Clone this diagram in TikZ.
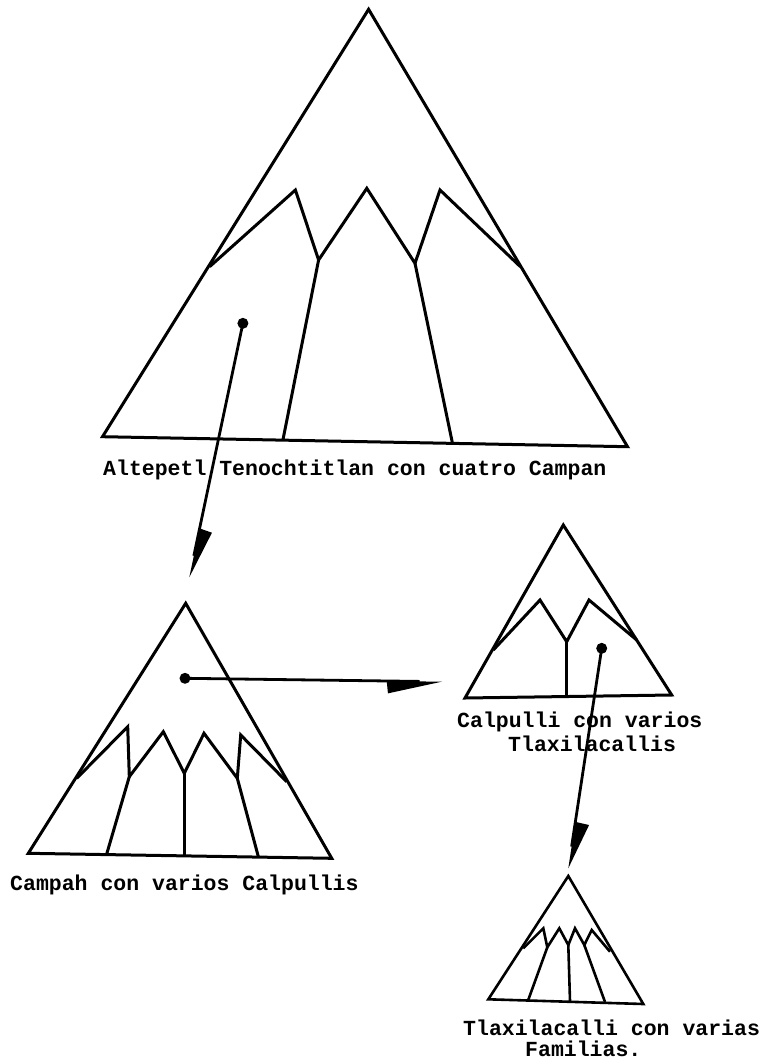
\documentclass[tikz,border=0pt]{standalone}
\usepackage{fontspec}
\newfontfamily\tw{Liberation Mono}[BoldFont={* Bold}]
\usetikzlibrary{calc}
\begin{document}
\begin{tikzpicture}[x=1pt,y=-1pt,
  tri/.style={line width=3pt,line join=miter},
  trismall/.style={line width=2.6pt,line join=miter},
  conn/.style={line width=2.8pt,shorten >=22pt},
  head/.style={fill=black},
  dotmark/.style={fill=black},
  lbl/.style={anchor=base west,inner sep=0pt,font=\tw\bfseries\fontsize{21.5}{24}\selectfont}]
\useasboundingbox (0,0) rectangle (760,1062);
\fill[white] (0,0) rectangle (760,1062);

% ---- Altepetl (big triangle)
\coordinate (A) at (368.6,9.3);
\coordinate (AL) at (102.5,436.7);
\coordinate (AR) at (627.5,446.7);
\draw[tri] (A) -- (AL) -- (AR) -- cycle;
\draw[tri] (209.6,266.7) -- (295.4,190) -- (318.6,260) -- (366.8,188.3) -- (415,263.3) -- (440,190) -- (520.4,266.7);
\draw[tri] (318.6,260) -- (282.9,440.1);
\draw[tri] (415,263.3) -- (452.5,443.4);
\node[lbl] (l1) at (103,475) {Altepetl Tenochtitlan con cuatro Campan};

% ---- Campah
\coordinate (B) at (185.7,603.3);
\coordinate (BL) at (28.3,853.3);
\coordinate (BR) at (331.7,858.3);
\draw[tri] (B) -- (BL) -- (BR) -- cycle;
\draw[tri] (76.7,778.3) -- (127.7,726.7) -- (129.3,776.7) -- (163.3,731.7) -- (184.3,773.3) -- (204,733.3) -- (237.3,778.3) -- (240.7,735) -- (286.7,781.7);
\draw[tri] (129.3,776.7) -- (106.7,854);
\draw[tri] (184.3,773.3) -- (184.3,855.5);
\draw[tri] (237.3,778.3) -- (258.3,856.5);
\node[lbl] (l2) at (10,890) {Campah con varios Calpullis};

% ---- Calpulli
\coordinate (C) at (563.3,525);
\coordinate (CL) at (465,698);
\coordinate (CR) at (671.7,695);
\draw[tri] (C) -- (CL) -- (CR) -- cycle;
\draw[tri] (493.3,650) -- (540,600) -- (566.7,641.7) -- (589,600) -- (636.7,640);
\draw[tri] (566.7,641.7) -- (566.7,696.5);
\node[lbl] (l3a) at (457,727) {Calpulli con varios};
\node[lbl] (l3b) at (508,751.5) {Tlaxilacallis};

% ---- Tlaxilacalli
\coordinate (D) at (568.3,876);
\coordinate (DL) at (488.3,999.3);
\coordinate (DR) at (643.3,1004);
\draw[trismall] (D) -- (DL) -- (DR) -- cycle;
\draw[trismall] (523.3,948.3) -- (543.3,928.3) -- (547.3,947.3) -- (559.3,928.3) -- (568.3,945) -- (575,928.3) -- (584.3,945) -- (591.7,930) -- (610,951.7);
\draw[trismall] (547.3,947.3) -- (528.3,999.8);
\draw[trismall] (568.3,945) -- (570,1001);
\draw[trismall] (584.3,945) -- (605,1002);
\node[lbl] (l4a) at (463,1035) {Tlaxilacalli con varias};
\node[lbl] (l4b) at (525,1056.5) {Familias.};

% ---- connectors
\coordinate (d1) at (242.9,323.3);
\coordinate (t1) at (189.3,577.3);
\coordinate (d2) at (185,678.3);
\coordinate (t2) at (441.7,681.7);
\coordinate (d3) at (601.7,648.3);
\coordinate (t3) at (568.3,868.3);

\fill[dotmark] (d1) circle (5.5pt);
\fill[dotmark] (d2) circle (5.5pt);
\fill[dotmark] (d3) circle (5.5pt);

\draw[conn] (d1) -- (t1);
\fill[head] (t1) -- ($(t1)!50pt!(d1)$) -- ($(t1)!50pt!-15:(d1)$) -- cycle;
\draw[conn] (d2) -- (t2);
\fill[head] (t2) -- ($(t2)!55pt!(d2)$) -- ($(t2)!55pt!13:(d2)$) -- cycle;
\draw[conn] (d3) -- (t3);
\fill[head] (t3) -- ($(t3)!47pt!(d3)$) -- ($(t3)!48pt!-17:(d3)$) -- cycle;
\end{tikzpicture}
\end{document}
